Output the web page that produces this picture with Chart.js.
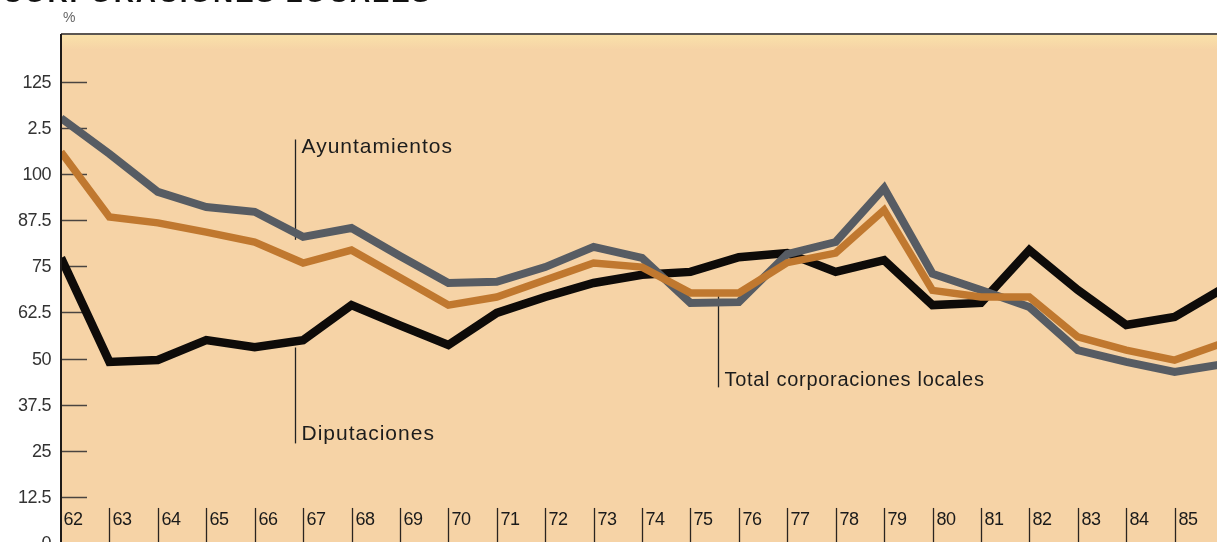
<!DOCTYPE html>
<html>
<head>
<meta charset="utf-8">
<script src="https://cdn.jsdelivr.net/npm/chart.js@4/dist/chart.umd.min.js"></script>
<style>
  html, body { margin: 0; padding: 0; background: #ffffff; overflow: hidden; width: 1217px; height: 542px; }
  #wrap { position: absolute; left: 0; top: 0; width: 1230px; height: 550px; }
  #title { position: absolute; left: 2px; top: -21px; font: bold 28px "Liberation Sans", Arial, sans-serif; line-height: 28px; letter-spacing: 1.8px; color: #111; white-space: nowrap; }
  #pct { position: absolute; left: 63px; top: 9px; font: 14px "Liberation Sans", Arial, sans-serif; color: #666; }
</style>
</head>
<body>
<div id="wrap"><canvas id="c" width="1230" height="550" style="width:1230px;height:550px"></canvas></div>
<div id="title">CORPORACIONES LOCALES</div>
<div id="pct">%</div>
<script>
// ---- data ----
const years = [62,63,64,65,66,67,68,69,70,71,72,73,74,75,76,77,78,79,80,81,82,83,84,85,86];
const ayuntamientos = [115.2,105.5,95.2,91.1,89.8,83.0,85.4,77.8,70.5,70.8,74.8,80.3,77.3,65.1,65.3,78.3,81.6,96.2,73.0,68.6,64.0,52.3,49.1,46.4,48.5];
const totalCorporaciones = [106.0,88.4,86.8,84.3,81.6,75.9,79.4,72.0,64.5,66.7,71.3,75.9,74.8,67.8,67.8,76.0,78.6,90.3,68.5,66.7,66.7,55.9,52.3,49.6,54.2];
const diputaciones = [77.3,49.1,49.6,55.0,53.1,55.0,64.5,59.0,53.7,62.4,66.7,70.5,72.7,73.5,77.5,78.6,73.5,76.7,64.5,65.1,79.4,68.6,59.1,61.3,69.0];
const xTickYears = [62,63,64,65,66,67,68,69,70,71,72,73,74,75,76,77,78,79,80,81,82,83,84,85];
const xTickLabels = ["62","63","64","65","66","67","68","69","70","71","72","73","74","75","76","77","78","79","80","81","82","83","84","85"];
const yTickValues = [0,12.5,25,37.5,50,62.5,75,87.5,100,112.5,125];
const yTickLabels = ["0","12.5","25","37.5","50","62.5","75","87.5","100","2.5","125"];
// annotation labels: [text, x (year), line from value, line to value, text top value]
const annotations = [
  { text: "Ayuntamientos", x: 66.83, yFrom: 109.4, yTo: 82.2, textAt: 109.4, fs: 21, ls: 1.0 },
  { text: "Diputaciones", x: 66.83, yFrom: 53.0, yTo: 27.0, textAt: 31.5, fs: 21, ls: 1.0 },
  { text: "Total corporaciones locales", x: 75.57, yFrom: 68.0, yTo: 42.2, textAt: 46.0, fs: 20, ls: 0.7 }
];

const pts = (arr) => arr.map((v, i) => ({ x: years[i], y: v }));

const decor = {
  id: 'decor',
  beforeDatasetsDraw(chart) {
    const { ctx, chartArea: a, scales: { x, y } } = chart;
    ctx.save();
    // background
    ctx.fillStyle = '#f6d3a6';
    ctx.fillRect(a.left, a.top, a.right - a.left, a.bottom - a.top);
    const g = ctx.createLinearGradient(0, a.top, 0, a.top + 16);
    g.addColorStop(0, 'rgba(250,228,170,0.9)');
    g.addColorStop(1, 'rgba(250,228,170,0)');
    ctx.fillStyle = g;
    ctx.fillRect(a.left, a.top, a.right - a.left, 16);

    // y ticks (inside) + labels
    ctx.strokeStyle = '#4a4440';
    ctx.lineWidth = 1.5;
    ctx.fillStyle = '#333';
    ctx.font = '18px "Liberation Sans", Arial, sans-serif';
    ctx.textAlign = 'right';
    ctx.textBaseline = 'middle';
    try { ctx.letterSpacing = '-0.5px'; } catch (e) {}
    yTickValues.forEach((v, i) => {
      const py = Math.round(y.getPixelForValue(v)) + 0.5;
      ctx.beginPath();
      ctx.moveTo(a.left, py);
      ctx.lineTo(a.left + 26, py);
      ctx.stroke();
      ctx.fillText(yTickLabels[i], a.left - 10, py + 1);
    });

    // x tick bars + labels (inside the plot at the bottom)
    ctx.textAlign = 'left';
    ctx.textBaseline = 'alphabetic';
    ctx.fillStyle = '#1a1a1a';
    ctx.font = '18px "Liberation Sans", Arial, sans-serif';
    ctx.strokeStyle = '#2a2420';
    ctx.lineWidth = 1.3;
    const barTop = y.getPixelForValue(9.5);
    const textBase = y.getPixelForValue(4.8);
    xTickYears.forEach((yr, i) => {
      const px = Math.round(x.getPixelForValue(yr)) + 0.5;
      if (i > 0) {
        ctx.beginPath();
        ctx.moveTo(px, barTop);
        ctx.lineTo(px, a.bottom);
        ctx.stroke();
      }
      ctx.fillText(xTickLabels[i], px + (i > 0 ? 3 : 2), textBase);
    });

    // annotation leader lines + texts
    ctx.strokeStyle = '#222';
    ctx.lineWidth = 1.3;
    ctx.fillStyle = '#1c1c1c';
    ctx.textBaseline = 'top';
    annotations.forEach(an => {
      const px = Math.round(x.getPixelForValue(an.x)) + 0.5;
      ctx.beginPath();
      ctx.moveTo(px, y.getPixelForValue(an.yFrom));
      ctx.lineTo(px, y.getPixelForValue(an.yTo));
      ctx.stroke();
      ctx.font = an.fs + 'px "Liberation Sans", Arial, sans-serif';
      try { ctx.letterSpacing = an.ls + 'px'; } catch (e) {}
      ctx.fillText(an.text, px + 6, y.getPixelForValue(an.textAt) - 3);
    });
    ctx.restore();
  },
  afterDatasetsDraw(chart) {
    const { ctx, chartArea: a } = chart;
    ctx.save();
    // top border
    ctx.strokeStyle = '#5c5752';
    ctx.lineWidth = 2;
    ctx.beginPath();
    ctx.moveTo(a.left, a.top);
    ctx.lineTo(a.right, a.top);
    ctx.stroke();
    // left axis
    ctx.strokeStyle = '#1e1a18';
    ctx.lineWidth = 2;
    ctx.beginPath();
    ctx.moveTo(a.left, a.top);
    ctx.lineTo(a.left, a.bottom);
    ctx.stroke();
    ctx.restore();
  }
};

new Chart(document.getElementById('c'), {
  type: 'line',
  data: {
    datasets: [
      { label: 'Total corporaciones locales', data: pts(totalCorporaciones), borderColor: '#c0782f', borderWidth: 7.5 },
      { label: 'Ayuntamientos', data: pts(ayuntamientos), borderColor: '#575c63', borderWidth: 8 },
      { label: 'Diputaciones', data: pts(diputaciones), borderColor: '#0e0b09', borderWidth: 8.5 }
    ]
  },
  options: {
    responsive: false,
    animation: false,
    devicePixelRatio: 1,
    layout: { padding: { left: 61, top: 34, right: 7, bottom: 7 } },
    elements: { point: { radius: 0 }, line: { tension: 0, borderJoinStyle: 'miter', borderCapStyle: 'butt' } },
    plugins: { legend: { display: false }, tooltip: { enabled: false } },
    scales: {
      x: { type: 'linear', min: 62, max: 86, display: false },
      y: { type: 'linear', min: 0, max: 138, display: false }
    }
  },
  plugins: [decor]
});
</script>
</body>
</html>
